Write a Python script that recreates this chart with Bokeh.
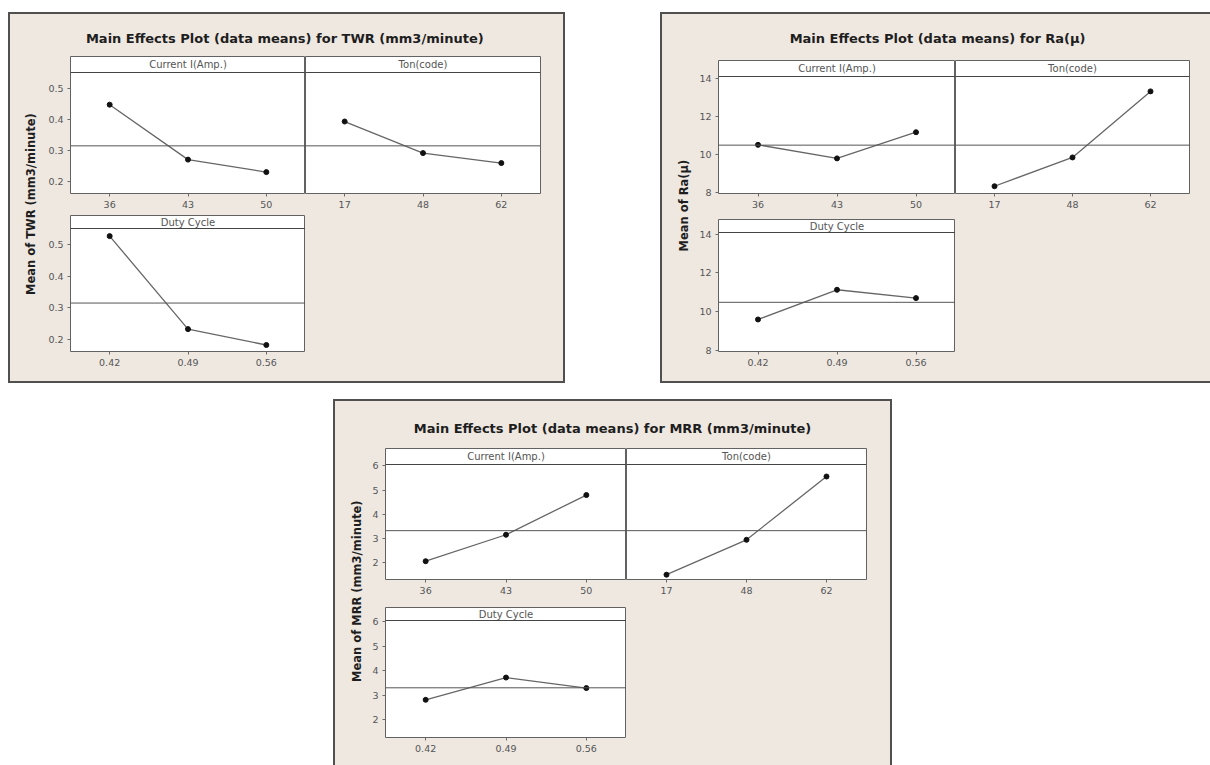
import math
from bokeh.plotting import figure
from bokeh.layouts import column, row
from bokeh.models import FactorRange, Range1d, Span, FixedTicker, NumeralTickFormatter, Spacer
from bokeh.core.properties import value
from bokeh.embed import file_html
from bokeh.resources import INLINE

# ---------------- data ----------------
factor_names = ["Current I(Amp.)", "Ton(code)", "Duty Cycle"]
current_levels = ["36", "43", "50"]
ton_levels = ["17", "48", "62"]
duty_levels = ["0.42", "0.49", "0.56"]

twr_current = [0.447, 0.271, 0.231]
twr_ton = [0.393, 0.292, 0.260]
twr_duty = [0.526, 0.233, 0.183]
twr_ticks = [0.2, 0.3, 0.4, 0.5]

ra_current = [10.50, 9.79, 11.16]
ra_ton = [8.33, 9.84, 13.30]
ra_duty = [9.60, 11.13, 10.70]
ra_ticks = [8, 10, 12, 14]

mrr_current = [2.04, 3.14, 4.79]
mrr_ton = [1.48, 2.93, 5.56]
mrr_duty = [2.82, 3.73, 3.30]
mrr_ticks = [2, 3, 4, 5, 6]

titles = ["Main Effects Plot (data means) for TWR (mm3/minute)",
          "Main Effects Plot (data means) for Ra(\u00b5)",
          "Main Effects Plot (data means) for MRR (mm3/minute)"]
ylabels = ["Mean of TWR (mm3/minute)", "Mean of Ra(\u00b5)", "Mean of MRR (mm3/minute)"]

# ---------------- style ----------------
BG = "#EEE8E1"
FONT = "DejaVu Sans"
BORDER = "2px solid #505050"


def text_fig(w, h, txt, x, y, angle, size):
    p = figure(width=w, height=h, x_range=Range1d(0, 1), y_range=Range1d(0, 1),
               toolbar_location=None, output_backend="svg", min_border=0, title=None,
               outline_line_color=None, background_fill_color=BG, border_fill_color=BG,
               x_axis_location=None, y_axis_location=None)
    p.grid.visible = False
    p.text(x=[x], y=[y], text=[txt], angle=angle, text_align="center",
           text_baseline="middle", text_font=value(FONT), text_font_style="bold",
           text_font_size=size, text_color="#1e1e1e")
    return p


def panel(levels, means, name, ylo, yhi, strip_px, frame_w, frame_h, left, right,
          bottom, ticks, fmt, grand, show_y):
    span = yhi - ylo
    top = yhi + span * strip_px / (frame_h - strip_px)
    p = figure(width=left + frame_w + right, height=frame_h + bottom,
               x_range=FactorRange(factors=levels), y_range=Range1d(ylo, top),
               toolbar_location=None, output_backend="svg", title=None,
               min_border_left=left, min_border_right=right, min_border_top=0,
               min_border_bottom=bottom,
               y_axis_location="left" if show_y else None,
               background_fill_color="white", border_fill_color=BG,
               outline_line_color="#626262", outline_line_width=1)
    p.grid.visible = False
    for ax in p.axis:
        ax.axis_line_color = None
        ax.major_tick_out = 3
        ax.major_tick_in = 0
        ax.minor_tick_line_color = None
        ax.major_tick_line_color = "#6a6a6a"
        ax.major_label_text_font = FONT
        ax.major_label_text_font_size = "9.5px"
        ax.major_label_text_color = "#555555"
        ax.major_label_standoff = 4
    if show_y:
        p.yaxis.ticker = FixedTicker(ticks=ticks)
        p.yaxis.formatter = NumeralTickFormatter(format=fmt)
    p.add_layout(Span(location=grand, dimension="width", line_color="#555555", line_width=1))
    p.add_layout(Span(location=yhi, dimension="width", line_color="#444444", line_width=1.2))
    p.line(levels, means, line_color="#666666", line_width=1.3)
    p.scatter(levels, means, size=5, color="#111111")
    p.text(x=[levels[1]], y=[(yhi + top) / 2], text=[name], text_align="center",
           text_baseline="middle", text_font=value(FONT), text_font_size="10px",
           text_color="#555555")
    return p


def chart(title, ylabel, data, ticks, fmt, ylo, yhi, g):
    cur, ton, duty = data
    grand = sum(cur + ton + duty) / 9.0
    lw, left = g["lw"], g["left"]
    fw1, fw2, right2 = g["fw1"], g["fw2"], g["right2"]
    th = g["th"]
    fh_t, b_t, fh_b, b_b = g["fh_t"], g["b_t"], g["fh_b"], g["b_b"]
    width = lw + left + fw1 + fw2 + right2
    t = text_fig(width, th, title, g["tx"], g["ty"], 0, "13px")
    yl = text_fig(lw, fh_t + b_t + fh_b + b_b, ylabel, g["yx"], g["yy"], math.pi / 2, "11.5px")
    tl = panel(current_levels, cur, factor_names[0], ylo, yhi, 16, fw1, fh_t, left, 0, b_t,
               ticks, fmt, grand, True)
    tr = panel(ton_levels, ton, factor_names[1], ylo, yhi, 16, fw2, fh_t, 0, right2, b_t,
               ticks, fmt, grand, False)
    bl = panel(duty_levels, duty, factor_names[2], ylo, yhi, 13, fw1, fh_b, left, 0, b_b,
               ticks, fmt, grand, True)
    body = column(row(tl, tr), row(bl, Spacer(width=fw2 + right2, height=fh_b + b_b)))
    return column(t, row(yl, body), styles=g["styles"])


g1 = dict(lw=34, left=26, fw1=235, fw2=235, right2=23, th=42, fh_t=137, b_t=22,
          fh_b=136, b_b=30, tx=0.496, ty=0.43, yx=0.59, yy=0.546,
          styles={"background-color": BG, "border": BORDER})
g2 = dict(lw=32, left=24, fw1=237, fw2=234, right2=21, th=46, fh_t=133, b_t=26,
          fh_b=132, b_b=30, tx=0.502, ty=0.478, yx=0.66, yy=0.548,
          styles={"background-color": BG, "border-left": BORDER, "border-top": BORDER,
                  "border-bottom": BORDER})
g3 = dict(lw=30, left=20, fw1=241, fw2=240, right2=24, th=47, fh_t=131, b_t=28,
          fh_b=130, b_b=28, tx=0.499, ty=0.426, yx=0.72, yy=0.55,
          styles={"background-color": BG, "border-left": BORDER, "border-top": BORDER,
                  "border-right": BORDER})

c1 = chart(titles[0], ylabels[0], (twr_current, twr_ton, twr_duty), twr_ticks, "0.0",
           0.1625, 0.55, g1)
c2 = chart(titles[1], ylabels[1], (ra_current, ra_ton, ra_duty), ra_ticks, "0",
           7.95, 14.08, g2)
c3 = chart(titles[2], ylabels[2], (mrr_current, mrr_ton, mrr_duty), mrr_ticks, "0",
           1.28, 6.06, g3)

page = column(Spacer(width=10, height=12),
              row(Spacer(width=8, height=10), c1, Spacer(width=95, height=10), c2),
              Spacer(width=10, height=16),
              row(Spacer(width=333, height=10), c3))

open("out.html", "w").write(file_html(page, INLINE))
